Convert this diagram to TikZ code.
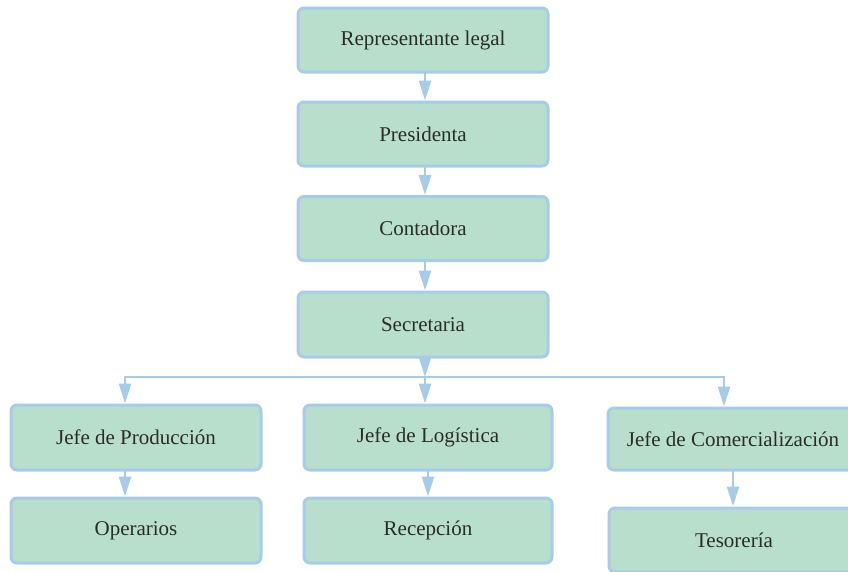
\documentclass[tikz,border=0pt]{standalone}
\usepackage{fontspec}
\setmainfont{Liberation Serif}
\usetikzlibrary{arrows.meta}
\definecolor{boxfill}{HTML}{B8DFCC}
\definecolor{boxline}{HTML}{A6CCEA}
\definecolor{txt}{HTML}{2B2B2B}
\tikzset{
  orgbox/.style={draw=boxline, line width=3pt, fill=boxfill, rounded corners=6pt,
    minimum width=250pt, minimum height=64pt, inner sep=0pt,
    font=\fontsize{21}{24}\selectfont, text=txt},
  conn/.style={draw=boxline, line width=2.5pt},
  arr/.style={conn, -{Triangle[length=20pt,width=12pt]}, shorten <=-1pt}
}
\begin{document}
\begin{tikzpicture}[x=1pt,y=-1pt]
\useasboundingbox (0,0) rectangle (848,571);
\clip (0,0) rectangle (848,571);
\node[orgbox] (rep) at (423,40) {Representante legal};
\node[orgbox] (pre) at (423,134) {Presidenta};
\node[orgbox] (con) at (423,228.5) {Contadora};
\node[orgbox, minimum height=65pt] (sec) at (423,324.5) {Secretaria};
\node[orgbox, minimum height=65pt] (jp) at (136,437.5) {Jefe de Producción};
\node[orgbox, minimum height=65pt] (op) at (136,530.5) {Operarios};
\node[orgbox, minimum width=248pt, minimum height=65pt] (jl) at (428,437.5) {Jefe de Logística};
\node[orgbox, minimum width=248pt, minimum height=65pt] (rec) at (428,530.5) {Recepción};
\node[orgbox, minimum height=62pt] (jc) at (733,439) {Jefe de Comercialización};
\node[orgbox] (tes) at (734,540) {Tesorería};
\coordinate (b1) at (125,377);
\coordinate (b2) at (425,377);
\coordinate (b3) at (724,377);
\draw[arr] (rep.south -| b2) -- (pre.north -| b2);
\draw[arr] (pre.south -| b2) -- (con.north -| b2);
\draw[arr] (con.south -| b2) -- (sec.north -| b2);
\draw[arr] (sec.south -| b2) -- (b2);
\draw[conn] (b1) -- (b3);
\draw[arr] (b1) -- (jp.north -| b1);
\draw[arr] (b2) -- (jl.north -| b2);
\draw[arr] (b3) -- (jc.north -| b3);
\draw[arr] (jp.south -| b1) -- (op.north -| b1);
\draw[arr] (jl.south) -- (rec.north);
\draw[arr] (jc.south) -- (tes.north -| jc.south);
\end{tikzpicture}
\end{document}
